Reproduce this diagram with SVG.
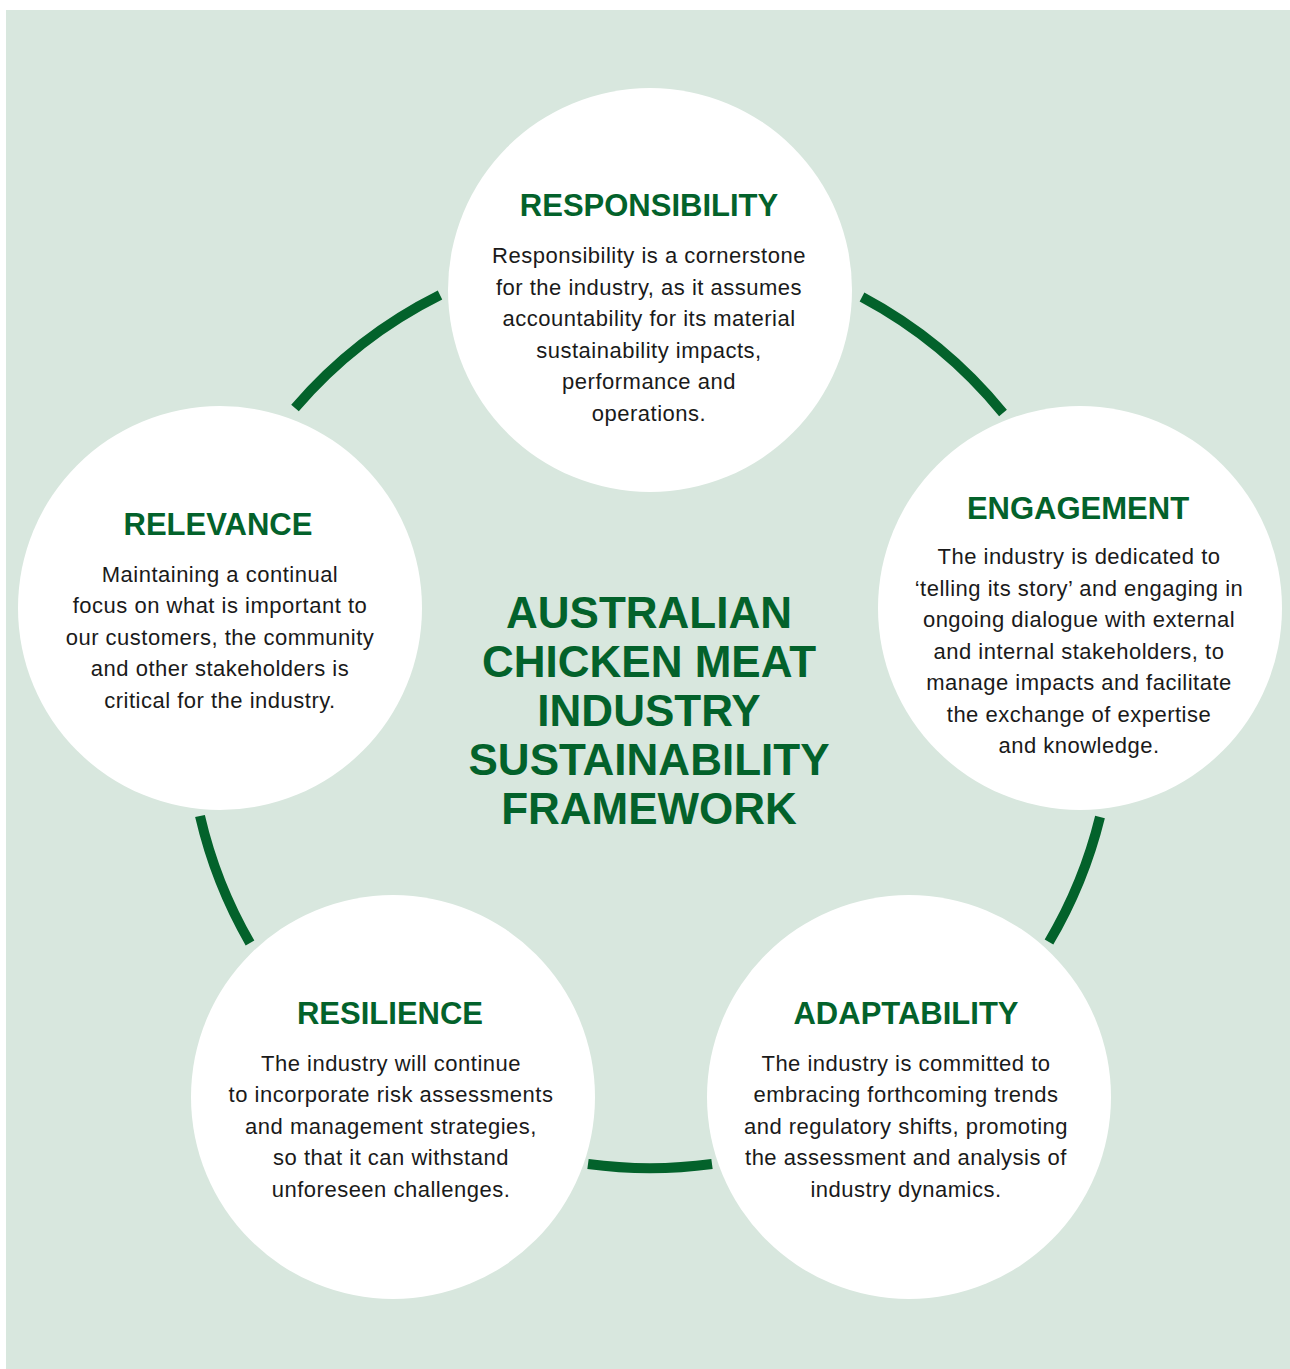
<svg xmlns="http://www.w3.org/2000/svg" width="1290" height="1369" viewBox="0 0 1290 1369">
<style>
.bg{fill:#d8e7de}
.node{fill:#ffffff}
.ring{fill:none;stroke:#03622b;stroke-width:10;stroke-linecap:butt}
.ttl{font-family:"Liberation Sans",Arial,sans-serif;font-weight:bold;font-size:31px;fill:#03622b;text-anchor:middle}
.body{font-family:"Liberation Sans",Arial,sans-serif;font-size:22px;letter-spacing:0.5px;fill:#1a1a1a;text-anchor:middle}
.main{font-family:"Liberation Sans",Arial,sans-serif;font-weight:bold;font-size:44px;fill:#03622b;text-anchor:middle}
</style>
<rect class="bg" x="6" y="10" width="1284" height="1359"/>
<g id="connectors">
<path class="ring" d="M295,408 A462,462 0 0 1 440,295"/>
<path class="ring" d="M862,297 A462,462 0 0 1 1003,413"/>
<path class="ring" d="M1100,817 A462,462 0 0 1 1049,942"/>
<path class="ring" d="M712,1164 A462,462 0 0 1 588,1164"/>
<path class="ring" d="M250,943 A462,462 0 0 1 200,816"/>
</g>
<g id="center-title">
<text class="main" x="649" y="628">AUSTRALIAN</text>
<text class="main" x="649" y="677">CHICKEN MEAT</text>
<text class="main" x="649" y="726">INDUSTRY</text>
<text class="main" x="649" y="775">SUSTAINABILITY</text>
<text class="main" x="649" y="824">FRAMEWORK</text>
</g>
<g id="responsibility">
<circle class="node" cx="650" cy="290" r="202"/>
<text class="ttl" x="649" y="216">RESPONSIBILITY</text>
<text class="body" x="649" y="263">Responsibility is a cornerstone</text>
<text class="body" x="649" y="295">for the industry, as it assumes</text>
<text class="body" x="649" y="326">accountability for its material</text>
<text class="body" x="649" y="358">sustainability impacts,</text>
<text class="body" x="649" y="389">performance and</text>
<text class="body" x="649" y="421">operations.</text>
</g>
<g id="engagement">
<circle class="node" cx="1080" cy="608" r="202"/>
<text class="ttl" x="1078" y="519">ENGAGEMENT</text>
<text class="body" x="1079" y="564">The industry is dedicated to</text>
<text class="body" x="1079" y="596">‘telling its story’ and engaging in</text>
<text class="body" x="1079" y="627">ongoing dialogue with external</text>
<text class="body" x="1079" y="659">and internal stakeholders, to</text>
<text class="body" x="1079" y="690">manage impacts and facilitate</text>
<text class="body" x="1079" y="722">the exchange of expertise</text>
<text class="body" x="1079" y="753">and knowledge.</text>
</g>
<g id="adaptability">
<circle class="node" cx="909" cy="1097" r="202"/>
<text class="ttl" x="906" y="1024">ADAPTABILITY</text>
<text class="body" x="906" y="1071">The industry is committed to</text>
<text class="body" x="906" y="1102">embracing forthcoming trends</text>
<text class="body" x="906" y="1134">and regulatory shifts, promoting</text>
<text class="body" x="906" y="1165">the assessment and analysis of</text>
<text class="body" x="906" y="1197">industry dynamics.</text>
</g>
<g id="resilience">
<circle class="node" cx="393" cy="1097" r="202"/>
<text class="ttl" x="390" y="1024">RESILIENCE</text>
<text class="body" x="391" y="1071">The industry will continue</text>
<text class="body" x="391" y="1102">to incorporate risk assessments</text>
<text class="body" x="391" y="1134">and management strategies,</text>
<text class="body" x="391" y="1165">so that it can withstand</text>
<text class="body" x="391" y="1197">unforeseen challenges.</text>
</g>
<g id="relevance">
<circle class="node" cx="220" cy="608" r="202"/>
<text class="ttl" x="218" y="535">RELEVANCE</text>
<text class="body" x="220" y="582">Maintaining a continual</text>
<text class="body" x="220" y="613">focus on what is important to</text>
<text class="body" x="220" y="645">our customers, the community</text>
<text class="body" x="220" y="676">and other stakeholders is</text>
<text class="body" x="220" y="708">critical for the industry.</text>
</g>
</svg>
